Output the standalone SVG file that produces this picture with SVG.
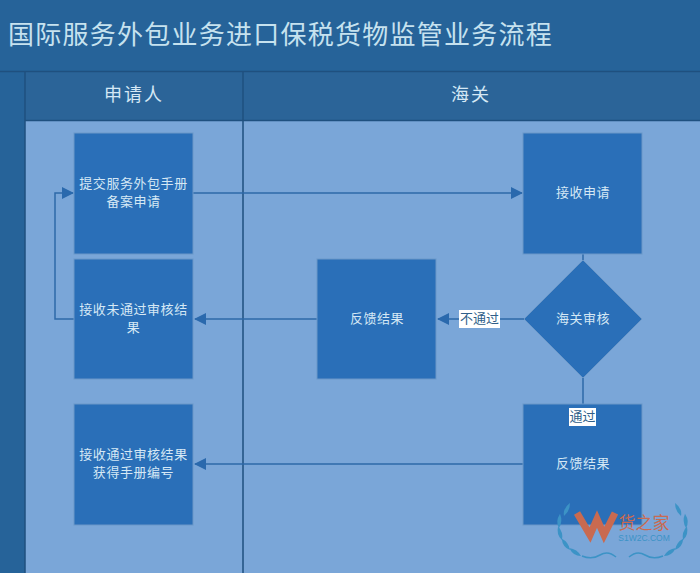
<svg xmlns="http://www.w3.org/2000/svg" width="700" height="573" viewBox="0 0 700 573">
<defs>
<style>
text{font-family:"Noto Sans CJK SC","Liberation Sans",sans-serif;text-anchor:middle}
.node{fill:#2a6fb8;stroke:#6a97c8;stroke-width:1}
.t{fill:#d5e8f5;font-size:13px;letter-spacing:.55px}
.h{fill:#d5e8f5;font-size:18px;letter-spacing:2px}
.c{fill:none;stroke:#2e69a8;stroke-width:1.500}
.lb{fill:#fff}
.e{fill:#2f5f8a;font-size:13px}
.leaf{fill:#3c93c6}
</style>
<marker id="a" markerUnits="userSpaceOnUse" markerWidth="12" markerHeight="12" refX="11" refY="6" orient="auto"><path d="M0 0L12 6L0 12Z" fill="#2a69ad"/></marker>
<path id="lf" class="leaf" d="M0 0Q5 -6 3 -14Q-3 -7 0 0Z"/>
</defs>
<rect width="700" height="573" fill="#7aa6d8"/>
<rect width="700" height="71" fill="#266399"/>
<rect y="71" width="25" height="502" fill="#266399"/>
<rect x="25" y="72" width="675" height="49" fill="#2b6498"/>
<path d="M0 71.500H700M25 71V573M243 72V573M25 120.500H700" fill="none" stroke="#1f507f" stroke-width="1.500"/>
<text x="280.500" y="44" style="font-size:26px;fill:#c6e2ef;letter-spacing:1.250px">国际服务外包业务进口保税货物监管业务流程</text>
<text class="h" x="134" y="101">申请人</text>
<text class="h" x="471" y="101">海关</text>
<g id="connectors">
<path class="c" d="M193 193H522" marker-end="url(#a)"/>
<path class="c" d="M583 254V262"/>
<path class="c" d="M74 319H55V193H73" marker-end="url(#a)"/>
<path class="c" d="M524 319H438" marker-end="url(#a)"/>
<path class="c" d="M317 319H195" marker-end="url(#a)"/>
<path class="c" d="M583 378V404"/>
<path class="c" d="M523 464H195" marker-end="url(#a)"/>
</g>
<g id="n1"><rect class="node" x="74" y="133" width="119" height="121"/><text class="t" y="187.500"><tspan x="133.500">提交服务外包手册</tspan><tspan x="133.500" dy="18">备案申请</tspan></text></g>
<g id="n2"><rect class="node" x="74" y="259" width="119" height="120"/><text class="t" y="313.500"><tspan x="133.500">接收未通过审核结</tspan><tspan x="133.500" dy="18">果</tspan></text></g>
<g id="n3"><rect class="node" x="74" y="404" width="119" height="121"/><text class="t" y="459"><tspan x="133.500">接收通过审核结果</tspan><tspan x="133.500" dy="18">获得手册编号</tspan></text></g>
<g id="n4"><rect class="node" x="523" y="133" width="119" height="121"/><text class="t" x="583" y="197">接收申请</text></g>
<g id="n5"><path class="node" d="M583 260L642 319L583 378L524 319Z"/><text class="t" x="583" y="323">海关审核</text></g>
<g id="n6"><rect class="node" x="317" y="259" width="119" height="120"/><text class="t" x="377" y="323">反馈结果</text></g>
<g id="n7"><rect class="node" x="523" y="404" width="119" height="121"/><text class="t" x="583" y="468">反馈结果</text></g>
<g id="l1"><rect class="lb" x="459" y="310" width="41" height="18"/><text x="479.500" y="323" class="e">不通过</text></g>
<g id="l2"><rect class="lb" x="569" y="408" width="27" height="18"/><text x="582.500" y="421" class="e">通过</text></g>
<g id="watermark">
<use href="#lf" transform="translate(564 516) rotate(12)"/>
<use href="#lf" transform="translate(559 528) rotate(-8)"/>
<use href="#lf" transform="translate(562 540) rotate(-28)"/>
<use href="#lf" transform="translate(570 550) rotate(-48)"/>
<use href="#lf" transform="translate(581 556) rotate(-68)"/>
<use href="#lf" transform="translate(681 516) rotate(-12) scale(-1 1)"/>
<use href="#lf" transform="translate(686 528) rotate(8) scale(-1 1)"/>
<use href="#lf" transform="translate(683 540) rotate(28) scale(-1 1)"/>
<use href="#lf" transform="translate(675 550) rotate(48) scale(-1 1)"/>
<use href="#lf" transform="translate(664 556) rotate(68) scale(-1 1)"/>
<path d="M582 556Q592 560 600 555T616 557M663 556Q653 560 645 555T629 557" fill="none" stroke="#3c93c6" stroke-width="1.500"/>
<path d="M577 513L590 535L597 519L604 535L615 513" fill="none" stroke="#c96a50" stroke-width="7"/>
<text x="644" y="529"><tspan style="font-size:17px;fill:#c96a50">货之家</tspan><tspan x="644" dy="12" style="font-size:8.500px;fill:#3c93c6;font-family:'Liberation Sans',sans-serif">S1W2C.COM</tspan></text>
</g>
</svg>
